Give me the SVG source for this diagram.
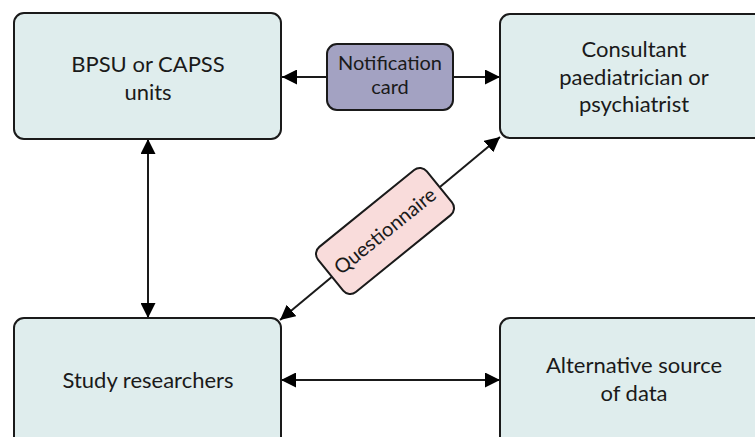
<svg xmlns="http://www.w3.org/2000/svg" width="755" height="437" viewBox="0 0 755 437">
<defs>
<style>
.box{fill:#dfeded;stroke:#1a1a1a;stroke-width:2}
.lbl{font-family:Lato,"Open Sans","DejaVu Sans",sans-serif;font-size:22px;fill:#1a1a1a;text-anchor:middle}
.sm{font-size:20px}
.conn line{stroke:#1a1a1a;stroke-width:2;fill:none}
</style>
<marker id="ah2" viewBox="0 0 10 10" refX="10" refY="5" markerWidth="15" markerHeight="15" markerUnits="userSpaceOnUse" orient="auto-start-reverse">
<path d="M0,0 L10,5 L0,10 Z" fill="#000"/>
</marker>
</defs>
<rect width="755" height="437" fill="#fff"/>
<g class="conn" id="connectors">
<line x1="327" y1="77" x2="282" y2="77" marker-end="url(#ah2)"/>
<line x1="453" y1="77" x2="500" y2="77" marker-end="url(#ah2)"/>
<line x1="148" y1="139" x2="148" y2="318" marker-start="url(#ah2)" marker-end="url(#ah2)"/>
<line x1="281" y1="380" x2="500" y2="380" marker-start="url(#ah2)" marker-end="url(#ah2)"/>
<line x1="280" y1="320" x2="500" y2="137" marker-start="url(#ah2)" marker-end="url(#ah2)"/>
</g>
<g id="bpsu">
<rect class="box" x="14" y="13" width="267" height="126" rx="10"/>
<text class="lbl" x="148" y="72">BPSU or CAPSS</text>
<text class="lbl" x="148" y="100">units</text>
</g>
<g id="consultant">
<rect class="box" x="500" y="14" width="268" height="124" rx="10"/>
<text class="lbl" x="634" y="57">Consultant</text>
<text class="lbl" x="634" y="85">paediatrician or</text>
<text class="lbl" x="634" y="112">psychiatrist</text>
</g>
<g id="notification">
<rect x="327" y="44" width="126" height="66" rx="10" fill="#a3a2c2" stroke="#1a1a1a" stroke-width="2"/>
<text class="lbl sm" x="390" y="70">Notification</text>
<text class="lbl sm" x="390" y="94">card</text>
</g>
<g id="questionnaire" transform="translate(385,231) rotate(-39)">
<rect x="-70" y="-29" width="140" height="58" rx="9" fill="#f9dcdb" stroke="#1a1a1a" stroke-width="2"/>
<text class="lbl sm" x="0" y="7">Questionnaire</text>
</g>
<g id="researchers">
<rect class="box" x="14" y="318" width="267" height="130" rx="10"/>
<text class="lbl" x="148" y="388">Study researchers</text>
</g>
<g id="alternative">
<rect class="box" x="500" y="318" width="268" height="130" rx="10"/>
<text class="lbl" x="634" y="373">Alternative source</text>
<text class="lbl" x="634" y="401">of data</text>
</g>
</svg>
